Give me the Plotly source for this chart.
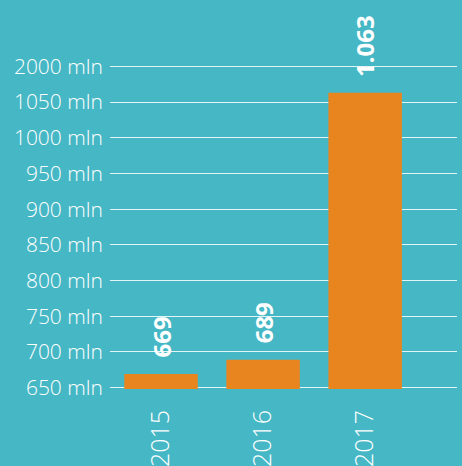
import plotly.graph_objects as go

years = ["2015", "2016", "2017"]
values = [669, 689, 1063]
value_labels = ["669", "689", "1.063"]
tick_vals = [650, 700, 750, 800, 850, 900, 950, 1000, 1050, 1100]
tick_text = ["650 mln", "700 mln", "750 mln", "800 mln", "850 mln", "900 mln",
             "950 mln", "1000 mln", "1050 mln", "2000 mln"]

BG = "#46B7C5"
BAR = "#E9851F"

x_pos = list(range(len(years)))

fig = go.Figure()
fig.add_trace(go.Bar(
    x=x_pos,
    y=values,
    base=0,
    marker=dict(color=BAR, line=dict(width=0)),
    width=0.72,
    cliponaxis=True,
    hoverinfo="skip",
))

for xi, v, lab in zip(x_pos, values, value_labels):
    fig.add_annotation(
        x=xi, y=v, text=lab, showarrow=False,
        textangle=-90, xanchor="center", yanchor="bottom", yshift=14,
        font=dict(family="Open Sans", size=24, color="white", weight="bold"),
    )

fig.update_layout(
    width=462, height=466,
    margin=dict(l=110, r=5, t=65, b=77),
    paper_bgcolor=BG, plot_bgcolor=BG,
    showlegend=False,
    font=dict(family="Open Sans", color="white"),
    xaxis=dict(
        range=[-0.5, 2.9],
        tickmode="array",
        tickvals=x_pos,
        ticktext=years,
        tickangle=-90,
        tickfont=dict(size=25, color="white", weight=300),
        showgrid=False, zeroline=False, showline=False,
        ticks="", ticklabelstandoff=15, automargin=False,
    ),
    yaxis=dict(
        range=[648, 1102],
        tickmode="array",
        tickvals=tick_vals,
        ticktext=tick_text,
        tickfont=dict(size=21, color="white", weight=300),
        showgrid=True, gridcolor="rgba(255,255,255,0.85)", gridwidth=1,
        zeroline=False, showline=False,
        ticks="", ticklabelstandoff=6, automargin=False,
    ),
)

fig.write_html(
    "out.html",
    config={"displayModeBar": False},
    post_script="document.body.style.margin='0';document.body.style.overflow='hidden';",
)
